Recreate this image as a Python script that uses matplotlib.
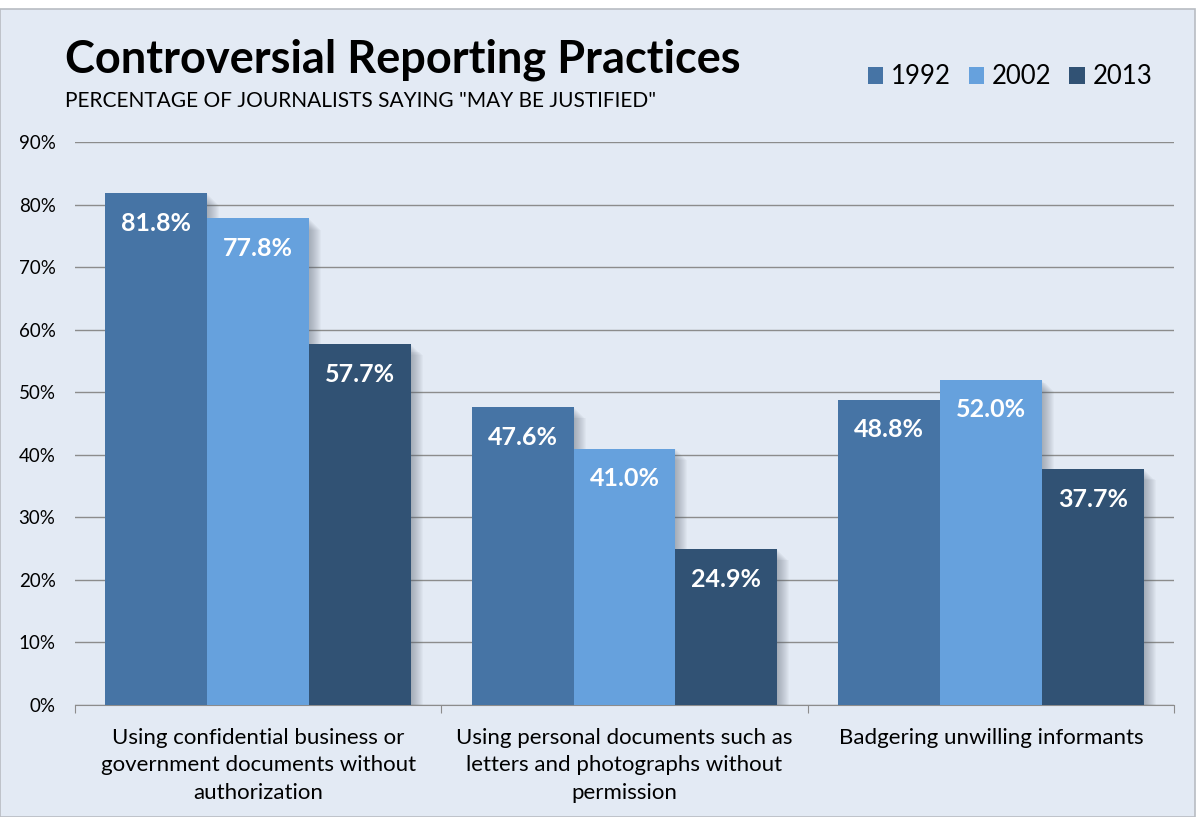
import matplotlib.pyplot as plt
import numpy as np

categories = ["Using confidential business or\ngovernment documents without\nauthorization",
              "Using personal documents such as\nletters and photographs without\npermission",
              "Badgering unwilling informants"]
years = ["1992", "2002", "2013"]
v1992 = [81.8, 47.6, 48.8]
v2002 = [77.8, 41.0, 52.0]
v2013 = [57.7, 24.9, 37.7]
colors = ["#4674A5", "#66A1DD", "#315274"]

bg = "#E3EAF4"
plt.rcParams['font.family'] = ['Lato', 'DejaVu Sans']

fig = plt.figure(figsize=(12.01, 8.17), dpi=100)
fig.patch.set_facecolor("white")
# chart panel background
panel = plt.Rectangle((0, 0), 1195 / 1201, 1 - 9 / 817, transform=fig.transFigure,
                      facecolor=bg, edgecolor="#B8BCC2", lw=1.2, zorder=-10)
fig.patches.append(panel)

ax = fig.add_axes([75 / 1201, 1 - 705 / 817, 1099 / 1201, 563 / 817])
ax.set_facecolor(bg)

x = np.arange(len(categories))
w = 0.278
series = [v1992, v2002, v2013]
px = 3.0 / 1099  # one pixel in data units along x

# soft shadow behind the bars
for i, vals in enumerate(series):
    for k in range(1, 13):
        ax.bar(x + (i - 1) * w + k * px, np.array(vals) - 0.15 * k, w, color="#5A6470",
               alpha=0.045, lw=0, zorder=1.5)

for i, (vals, c) in enumerate(zip(series, colors)):
    ax.bar(x + (i - 1) * w, vals, w, color=c, label=years[i], zorder=3)
    for xi, v in zip(x + (i - 1) * w, vals):
        ax.text(xi, v - 4.8, "%.1f%%" % v, ha="center", va="center", color="white",
                fontsize=18, fontweight="bold", zorder=5)

ax.set_xlim(-0.5, 2.5)
ax.set_ylim(0, 90)
ax.set_yticks(np.arange(0, 91, 10))
ax.set_yticklabels(["%d%%" % t for t in range(0, 91, 10)], fontsize=13.5)
ax.yaxis.grid(True, color="#8C8C8C", lw=1.0, zorder=0)
ax.set_axisbelow(True)
ax.tick_params(axis="y", length=0, pad=14)
ax.set_xticks([-0.5, 0.5, 1.5, 2.5], minor=False)
ax.set_xticklabels([])
ax.tick_params(axis="x", length=6, color="#8C8C8C", direction="out")
for xi, lab in zip(x, categories):
    ax.text(xi, -3.6, lab, ha="center", va="top", fontsize=16, linespacing=1.48)
for s in ["top", "right", "left"]:
    ax.spines[s].set_visible(False)
ax.spines["bottom"].set_color("#8C8C8C")

fig.text(65 / 1201, 1 - 60 / 817, "Controversial Reporting Practices", fontsize=32.5,
         fontweight="bold", va="center", ha="left")
fig.text(65 / 1201, 1 - 101 / 817, 'PERCENTAGE OF JOURNALISTS SAYING "MAY BE JUSTIFIED"',
         fontsize=15, va="center", ha="left")

leg = fig.legend(loc="center right", bbox_to_anchor=(1152 / 1201, 1 - 77 / 817), ncol=3,
                 frameon=False, fontsize=18.5, handlelength=0.6, handleheight=0.6,
                 handletextpad=0.3, columnspacing=0.7, borderaxespad=0, borderpad=0)

fig.savefig("out.png", dpi=100, facecolor=fig.get_facecolor())
